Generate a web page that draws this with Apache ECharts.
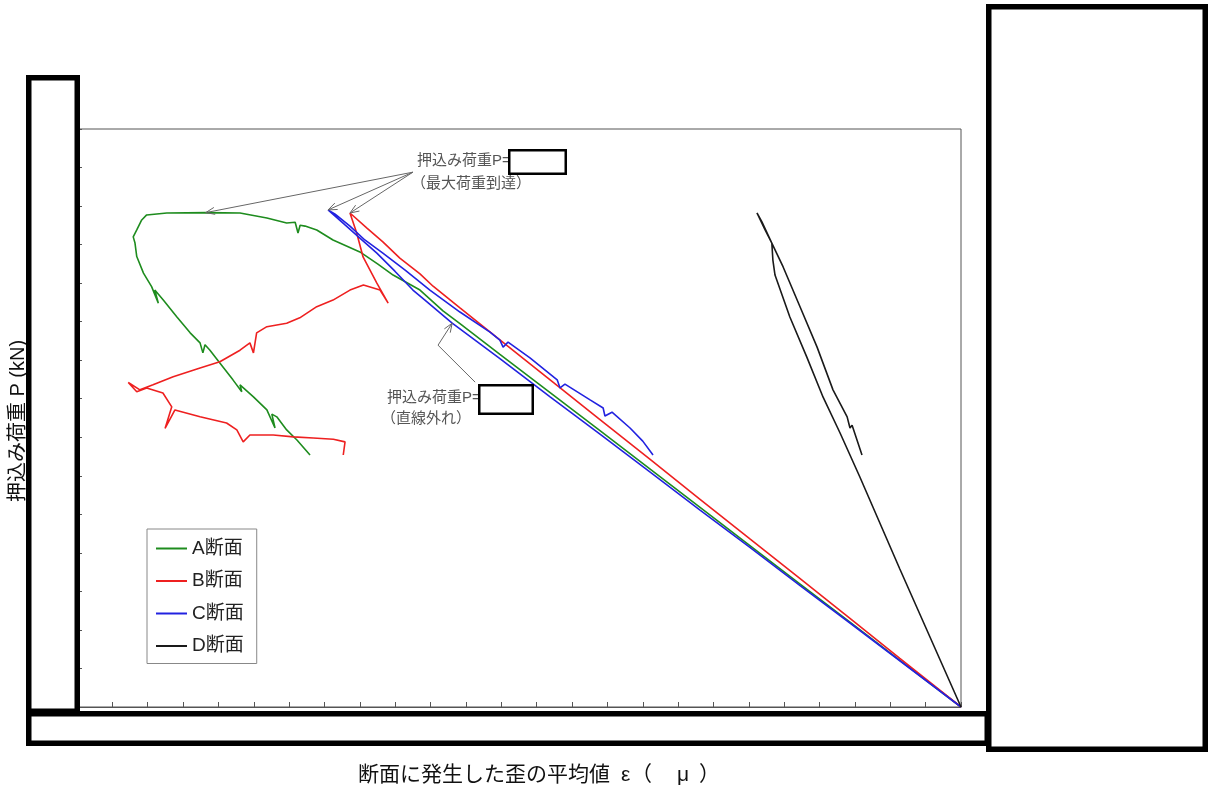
<!DOCTYPE html>
<html>
<head>
<meta charset="utf-8">
<script src="https://cdn.jsdelivr.net/npm/echarts@6.0.0/dist/echarts.min.js"></script>
<style>
  html, body { margin: 0; padding: 0; background: #fff; }
  #main { width: 1218px; height: 791px; }
</style>
</head>
<body>
<div id="main"></div>
<script>
// 軸の範囲（目盛ラベルは黒塗りで見えない）
const X_MIN = -2500, X_MAX = 0, X_STEP = 100;
const Y_MIN = 0, Y_MAX = 1500, Y_STEP = 100;

const seriesNames = ["A断面", "B断面", "C断面", "D断面"];
const seriesColors = ["#1e8c1e", "#ee2020", "#2222e0", "#1a1a1a"];

// [歪 ε(μ), 荷重 P(kN)]
const aSection = [
  [0, 0], [-173, 121], [-314, 220], [-455, 319], [-597, 419], [-738, 518], [-880, 618],
  [-1021, 717], [-1162, 816], [-1304, 915], [-1417, 995], [-1465, 1028], [-1530, 1082],
  [-1606, 1121], [-1650, 1150], [-1700, 1181], [-1776, 1212], [-1822, 1238], [-1855, 1248],
  [-1869, 1250], [-1875, 1230], [-1883, 1258], [-1907, 1256], [-1963, 1269], [-2039, 1282],
  [-2133, 1283], [-2246, 1282], [-2303, 1277], [-2317, 1264], [-2331, 1238], [-2341, 1220],
  [-2336, 1204], [-2331, 1169], [-2312, 1126], [-2289, 1091], [-2270, 1048], [-2280, 1082],
  [-2256, 1056], [-2218, 1013], [-2180, 971], [-2152, 945], [-2144, 919], [-2138, 940],
  [-2124, 926], [-2096, 893], [-2059, 849], [-2034, 818], [-2039, 836], [-2001, 805],
  [-1963, 771], [-1940, 724], [-1949, 760], [-1935, 753], [-1907, 719], [-1878, 693],
  [-1841, 654]
];
const bSection = [
  [0, 0], [-173, 126], [-314, 230], [-455, 333], [-597, 436], [-738, 539], [-880, 643],
  [-1021, 746], [-1162, 849], [-1304, 953], [-1417, 1036], [-1493, 1092], [-1530, 1124],
  [-1587, 1165], [-1635, 1207], [-1680, 1243], [-1728, 1282],
  [-1709, 1230], [-1691, 1168], [-1652, 1100], [-1620, 1048], [-1643, 1082], [-1690, 1095],
  [-1728, 1082], [-1776, 1056], [-1822, 1039], [-1870, 1010], [-1907, 996], [-1963, 987],
  [-1992, 971], [-2001, 919], [-2011, 945], [-2039, 926], [-2096, 896], [-2152, 880],
  [-2228, 857], [-2285, 836], [-2322, 823], [-2355, 842], [-2331, 818], [-2303, 828],
  [-2257, 815], [-2232, 779], [-2251, 723], [-2223, 771], [-2152, 753], [-2077, 737],
  [-2048, 719], [-2030, 688], [-2011, 706], [-1945, 706], [-1888, 701], [-1832, 698],
  [-1775, 695], [-1742, 688], [-1747, 654]
];
const cSection = [
  [0, 0], [-173, 120], [-314, 218], [-455, 315], [-597, 414], [-738, 511], [-880, 610],
  [-1021, 708], [-1162, 805], [-1304, 904], [-1439, 996], [-1516, 1056], [-1550, 1082],
  [-1601, 1131], [-1652, 1178], [-1700, 1217], [-1742, 1251], [-1790, 1290],
  [-1770, 1279], [-1728, 1248], [-1686, 1212], [-1635, 1178], [-1572, 1134], [-1502, 1082],
  [-1417, 1025], [-1332, 973], [-1304, 952], [-1295, 934], [-1281, 947], [-1219, 906],
  [-1142, 849], [-1134, 828], [-1120, 838], [-1049, 797], [-1012, 776], [-1007, 755],
  [-987, 765], [-936, 724], [-900, 690], [-871, 654]
];
const dSection = [
  [0, 0], [-173, 358], [-286, 597], [-342, 711], [-390, 804], [-436, 908], [-484, 1012],
  [-526, 1121], [-532, 1160], [-535, 1204], [-554, 1238], [-577, 1282], [-563, 1259],
  [-535, 1204], [-503, 1142], [-455, 1038], [-407, 934], [-362, 823], [-322, 753],
  [-314, 724], [-308, 731], [-280, 654]
];

// 注記の矢印（データ座標）
const maxArrowFrom = [-1550, 1388];
const maxArrowTo = [[-2136, 1283], [-1790, 1290], [-1728, 1282]];
const linearArrow = [[-1374, 843], [-1479, 939], [-1439, 996]];

const FONT = '"Liberation Sans", "Noto Sans CJK JP", sans-serif';

const chart = echarts.init(document.getElementById("main"));

const axisBase = {
  type: "value",
  axisLine: { onZero: false, lineStyle: { color: "#555", width: 1 } },
  axisTick: { inside: true, length: 5, lineStyle: { color: "#555" } },
  axisLabel: { show: false },
  splitLine: { show: false },
};

const dataSets = [aSection, bSection, cSection, dSection];

chart.setOption({
  animation: false,
  grid: { left: 77, right: 257, top: 129, bottom: 84, show: true, borderColor: "#555", borderWidth: 1 },
  xAxis: Object.assign({}, axisBase, { position: "bottom", min: X_MIN, max: X_MAX, interval: X_STEP }),
  yAxis: Object.assign({}, axisBase, { position: "left", min: Y_MIN, max: Y_MAX, interval: Y_STEP }),
  legend: {
    data: seriesNames,
    orient: "vertical",
    left: 147,
    top: 529,
    padding: [10, 13, 8, 9],
    icon: "rect",
    itemWidth: 31,
    itemHeight: 2,
    itemGap: 13.5,
    borderColor: "#888",
    borderWidth: 1,
    backgroundColor: "#fff",
    selectedMode: false,
    textStyle: { fontSize: 19, color: "#222", fontFamily: FONT },
  },
  series: seriesNames.map((name, i) => ({
    type: "line",
    name: name,
    data: dataSets[i],
    symbol: "none",
    color: seriesColors[i],
    lineStyle: { width: 1.6, color: seriesColors[i] },
  })),
});

function px(v) {
  return chart.convertToPixel({ gridIndex: 0 }, v);
}
function arrowHead(from, to) {
  const dx = to[0] - from[0], dy = to[1] - from[1];
  const L = Math.hypot(dx, dy);
  const ux = dx / L, uy = dy / L;
  const len = 9, w = 3.5;
  const b = [to[0] - ux * len, to[1] - uy * len];
  return [[b[0] - uy * w, b[1] + ux * w], to, [b[0] + uy * w, b[1] - ux * w]];
}
const arrowStyle = { stroke: "#666", lineWidth: 1, fill: null };

const graphic = [];
// 最大荷重到達の矢印
const s = px(maxArrowFrom);
maxArrowTo.forEach((t) => {
  const e = px(t);
  graphic.push({ type: "polyline", z: 50, shape: { points: [s, e] }, style: arrowStyle });
  graphic.push({ type: "polyline", z: 50, shape: { points: arrowHead(s, e) }, style: arrowStyle });
});
// 直線外れの矢印
const lp = linearArrow.map(px);
graphic.push({ type: "polyline", z: 50, shape: { points: lp }, style: arrowStyle });
graphic.push({ type: "polyline", z: 50, shape: { points: arrowHead(lp[1], lp[2]) }, style: arrowStyle });

function label(text, x, y, size, color, align) {
  return {
    type: "text", z: 60, x: x, y: y,
    style: { text: text, font: size + "px " + FONT, fill: color, align: align || "left", verticalAlign: "middle",
             textAlign: align || "left", textVerticalAlign: "middle" },
  };
}
graphic.push(label("押込み荷重P=", 417, 161, 15, "#555"));
graphic.push(label("（最大荷重到達）", 411, 184, 15, "#555"));
graphic.push(label("押込み荷重P=", 387, 398, 15, "#555"));
graphic.push(label("（直線外れ）", 381, 419, 15, "#555"));

// 軸タイトル
graphic.push(label("断面に発生した歪の平均値", 358, 775, 21, "#111"));
graphic.push(label("ε", 621, 775, 21, "#111"));
graphic.push(label("（", 631, 775, 21, "#111"));
graphic.push(label("μ", 677, 775, 21, "#111"));
graphic.push(label("）", 699, 775, 21, "#111"));
graphic.push({
  type: "text", z: 60, x: 18, y: 421, rotation: Math.PI / 2,
  style: { text: "押込み荷重 P (kN)", font: "20px " + FONT, fill: "#111", align: "center", verticalAlign: "middle",
           textAlign: "center", textVerticalAlign: "middle" },
});

// 黒枠（塗りつぶし）
function box(x0, y0, x1, y1, lw) {
  return {
    type: "rect", z: 100,
    shape: { x: x0 + lw / 2, y: y0 + lw / 2, width: x1 - x0 - lw, height: y1 - y0 - lw },
    style: { fill: "#fff", stroke: "#000", lineWidth: lw },
  };
}
graphic.push(box(26, 75, 80, 714, 5.5));
graphic.push(box(26, 711, 990, 746, 5.5));
graphic.push(box(986, 4, 1208, 752, 5.5));
graphic.push(box(508, 149, 567, 175, 2.5));
graphic.push(box(478, 384, 534, 415, 2.5));

chart.setOption({ graphic: graphic });
</script>
</body>
</html>
